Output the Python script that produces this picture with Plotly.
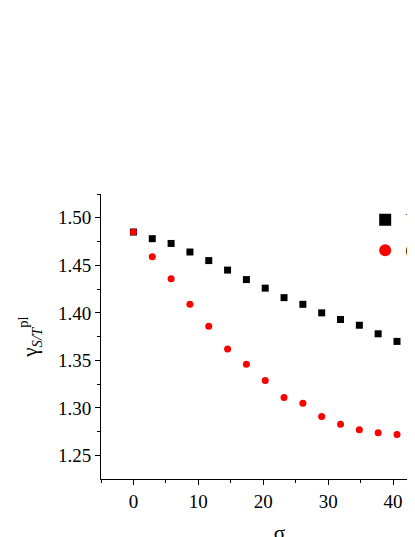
import plotly.graph_objects as go

sigma = [0, 2.9, 5.8, 8.7, 11.6, 14.5, 17.4, 20.3, 23.2, 26.1, 29.0, 31.9, 34.8, 37.7, 40.6, 43.5]
gamma_u = [1.485, 1.478, 1.473, 1.464, 1.455, 1.445, 1.435, 1.426, 1.416, 1.409, 1.400, 1.393, 1.387, 1.378, 1.370, 1.358]
gamma_c = [1.485, 1.459, 1.436, 1.409, 1.386, 1.362, 1.346, 1.329, 1.311, 1.305, 1.291, 1.283, 1.277, 1.274, 1.272, 1.268]

font = "Liberation Serif, DejaVu Serif, serif"

fig = go.Figure()
fig.add_trace(go.Scatter(x=sigma, y=gamma_u, mode="markers", name="Uncorrelated",
                         marker=dict(symbol="square", size=7, color="black")))
fig.add_trace(go.Scatter(x=sigma, y=gamma_c, mode="markers", name="Correlated",
                         marker=dict(symbol="circle", size=7, color="red")))

axis_common = dict(showline=True, linecolor="black", linewidth=1, ticks="outside",
                   ticklen=5, tickcolor="black", showgrid=False, zeroline=False,
                   automargin=False,
                   tickfont=dict(family=font, size=19, color="black"))
fig.update_xaxes(range=[-5, 50], tickvals=[0, 10, 20, 30, 40],
                 minor=dict(ticks="outside", ticklen=3, dtick=5, tick0=0, tickcolor="black"),
                 title=dict(text="σ", standoff=14, font=dict(family=font, size=21, color="black")),
                 **axis_common)
fig.update_yaxes(range=[1.2253, 1.525], tickvals=[1.25, 1.30, 1.35, 1.40, 1.45, 1.50],
                 tickformat=".2f",
                 minor=dict(ticks="outside", ticklen=3, dtick=0.025, tick0=1.25, tickcolor="black"),
                 title=dict(text="γ<sub><i>S/T</i></sub><sup>pl</sup>", standoff=14,
                            font=dict(family=font, size=21, color="black")),
                 **axis_common)

fig.update_layout(
    width=560, height=537,
    margin=dict(l=93, r=110, t=186, b=66),
    paper_bgcolor="white", plot_bgcolor="white",
    showlegend=True,
    legend=dict(x=0.74, y=0.98, xanchor="left", yanchor="top", bgcolor="rgba(0,0,0,0)",
                font=dict(family=font, size=21, color="black"), itemsizing="constant"),
)

fig.write_html("out.html")
